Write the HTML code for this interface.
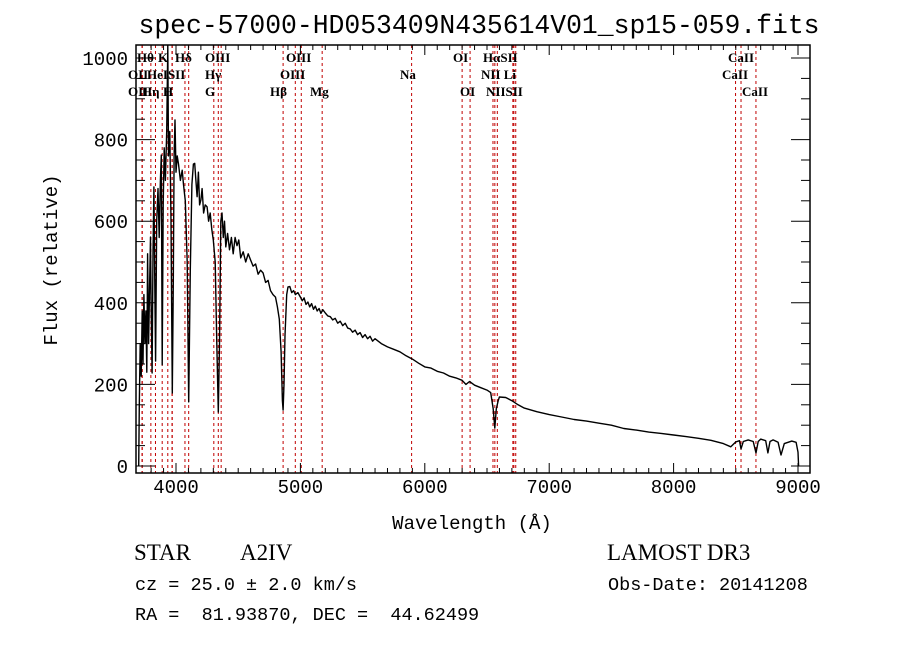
<!DOCTYPE html>
<html><head><meta charset="utf-8"><style>
body{margin:0;background:#fff;}
svg text{fill:#000;}
.mono{font-family:"Liberation Mono",monospace;}
.serif{font-family:"Liberation Serif",serif;}
.ll{font-family:"Liberation Serif",serif;font-size:13px;font-weight:bold;}
</style></head><body>
<svg id="chart" width="900" height="649" viewBox="0 0 900 649" xmlns="http://www.w3.org/2000/svg">
<rect width="900" height="649" fill="#fff"/>
<text class="mono" x="479" y="33" font-size="26.4" text-anchor="middle">spec-57000-HD053409N435614V01_sp15-059.fits</text>
<g id="lines"></g>
<g id="linelabels">
<text class="ll" x="137" y="62">Hθ</text>
<text class="ll" x="158" y="62">K</text>
<text class="ll" x="175" y="62">Hδ</text>
<text class="ll" x="205" y="62">OIII</text>
<text class="ll" x="286" y="62">OIII</text>
<text class="ll" x="453" y="62">OI</text>
<text class="ll" x="483" y="62">HαSII</text>
<text class="ll" x="728" y="62">CaII</text>
<text class="ll" x="128" y="79">OII</text>
<text class="ll" x="147" y="79">HeISII</text>
<text class="ll" x="205" y="79">Hγ</text>
<text class="ll" x="280" y="79">OIII</text>
<text class="ll" x="400" y="79">Na</text>
<text class="ll" x="481" y="79">NII Li</text>
<text class="ll" x="722" y="79">CaII</text>
<text class="ll" x="128" y="96">OII</text>
<text class="ll" x="142" y="96">Hη</text>
<text class="ll" x="163" y="96">H</text>
<text class="ll" x="205" y="96">G</text>
<text class="ll" x="270" y="96">Hβ</text>
<text class="ll" x="310" y="96">Mg</text>
<text class="ll" x="460" y="96">OI</text>
<text class="ll" x="486" y="96">NIISII</text>
<text class="ll" x="742" y="96">CaII</text>
</g>
<g id="axes"></g>
<path id="spec" fill="none" stroke="#000" stroke-width="1.4" stroke-linejoin="round"/>
<text class="mono" x="472" y="529" font-size="19" text-anchor="middle">Wavelength (Å)</text>
<text class="mono" transform="translate(57,260) rotate(-90)" font-size="19" text-anchor="middle">Flux (relative)</text>
<text class="serif" x="134" y="560" font-size="23">STAR</text>
<text class="serif" x="240" y="560" font-size="23">A2IV</text>
<text class="mono" x="135" y="590" font-size="18.5">cz = 25.0 ± 2.0 km/s</text>
<text class="mono" x="135" y="620" font-size="18.5" xml:space="preserve">RA =  81.93870, DEC =  44.62499</text>
<text class="serif" x="607" y="560" font-size="23">LAMOST DR3</text>
<text class="mono" x="608" y="590" font-size="18.5">Obs-Date: 20141208</text>
</svg>
<script>
const wave=[3700,3705,3712,3720,3728,3735,3742,3750,3758,3765,3772,3780,3788,3795,3800,3808,3815,3822,3830,3836,3845,3855,3865,3875,3882,3889,3897,3905,3915,3925,3934,3940,3950,3960,3970,3978,3985,3992,4000,4010,4020,4035,4050,4060,4075,4090,4102,4115,4128,4140,4150,4160,4170,4180,4190,4200,4210,4222,4235,4250,4262,4275,4288,4300,4315,4328,4340,4350,4360,4370,4380,4390,4400,4415,4430,4445,4460,4475,4490,4505,4520,4540,4560,4580,4600,4620,4640,4660,4680,4700,4720,4740,4760,4780,4800,4815,4830,4845,4855,4861,4868,4876,4890,4900,4915,4930,4945,4960,4980,5000,5015,5030,5045,5060,5075,5090,5105,5120,5135,5150,5165,5180,5200,5220,5240,5260,5280,5300,5320,5340,5360,5380,5400,5420,5440,5460,5480,5500,5520,5540,5560,5580,5600,5650,5700,5750,5800,5850,5900,5950,6000,6050,6100,6150,6200,6250,6300,6330,6360,6400,6450,6500,6530,6550,6563,6575,6590,6600,6650,6700,6750,6800,6900,7000,7100,7200,7300,7400,7500,7600,7700,7800,7900,8000,8100,8200,8300,8400,8460,8500,8530,8542,8560,8600,8640,8662,8680,8700,8740,8758,8775,8800,8840,8863,8890,8950,8985,9000,9005];
const flux=[0,150,300,220,380,250,420,300,380,230,520,300,440,561,400,228,520,684,420,257,600,680,560,700,762,248,640,780,700,820,1030,760,820,600,179,450,760,848,720,760,740,700,725,690,650,500,157,480,690,740,742,700,660,720,640,652,680,620,640,635,600,620,580,554,500,300,132,300,600,620,560,600,537,570,530,560,520,560,540,554,510,525,500,520,505,490,495,470,480,473,450,455,430,420,414,390,360,280,160,137,200,320,420,439,440,425,430,420,425,414,405,412,396,402,390,398,384,392,380,386,374,383,375,368,366,358,362,350,355,344,350,338,336,328,333,322,327,315,322,312,318,306,312,300,292,286,280,270,262,252,243,240,232,228,220,216,210,200,207,198,192,186,180,140,93,140,160,169,168,160,150,142,133,126,120,114,110,105,100,92,88,83,80,76,72,68,63,55,47,59,62,42,60,64,60,32,60,66,62,32,60,64,58,27,55,61,58,34,0];
const lineWaves=[3727,3729,3798,3835,3889,3934,3968,3970,4072,4102,4304,4340,4363,4861,4959,5007,5175,5894,6300,6364,6548,6563,6583,6708,6716,6731,8498,8542,8662];
const xTicks=[4000,5000,6000,7000,8000,9000];
const yTicks=[0,200,400,600,800,1000];

const L=136,R=810,T=45,B=473;
function X(w){return 176+(w-4000)*0.1244;}
function Y(f){return 466-f*0.408;}
const NS="http://www.w3.org/2000/svg";
const ax=document.getElementById('axes');
function mk(tag,attrs,parent){const e=document.createElementNS(NS,tag);for(const k in attrs)e.setAttribute(k,attrs[k]);parent.appendChild(e);return e;}

const lg=document.getElementById('lines');
lineWaves.forEach(w=>{
  const l=mk('line',{x1:X(w),x2:X(w),y1:T,y2:B,stroke:'#c00000','stroke-width':1,'stroke-dasharray':'3,3'},lg);
  
  
});

const fr=mk('rect',{x:L,y:T,width:R-L,height:B-T,fill:'none',stroke:'#000','stroke-width':1.5},ax);


for(let w=3800;w<=9000;w+=100){
  const major=w%1000===0;const len=major?10:5;
  mk('line',{x1:X(w),x2:X(w),y1:B,y2:B-len,stroke:'#000'},ax);
  mk('line',{x1:X(w),x2:X(w),y1:T,y2:T+len,stroke:'#000'},ax);
}
for(let f=0;f<=1000;f+=50){
  const major=f%200===0;const len=major?19:9;
  mk('line',{x1:L,x2:L+len,y1:Y(f),y2:Y(f),stroke:'#000'},ax);
  mk('line',{x1:R,x2:R-len,y1:Y(f),y2:Y(f),stroke:'#000'},ax);
}
xTicks.forEach(v=>{
  const t=mk('text',{x:X(v),y:B+20,'font-size':19,'text-anchor':'middle','font-family':'Liberation Mono, monospace'},ax);
  t.textContent=v;
  
  
});
yTicks.forEach(v=>{
  const t=mk('text',{x:128,y:Y(v)+7,'font-size':19,'text-anchor':'end','font-family':'Liberation Mono, monospace'},ax);
  t.textContent=v;
  
  
});
let d='';
wave.forEach((w,i)=>{const y=Math.max(T,Math.min(B,Y(flux[i])));d+=(i?'L':'M')+X(w).toFixed(1)+','+y.toFixed(1);});
document.getElementById('spec').setAttribute('d',d);
</script>
</body></html>
